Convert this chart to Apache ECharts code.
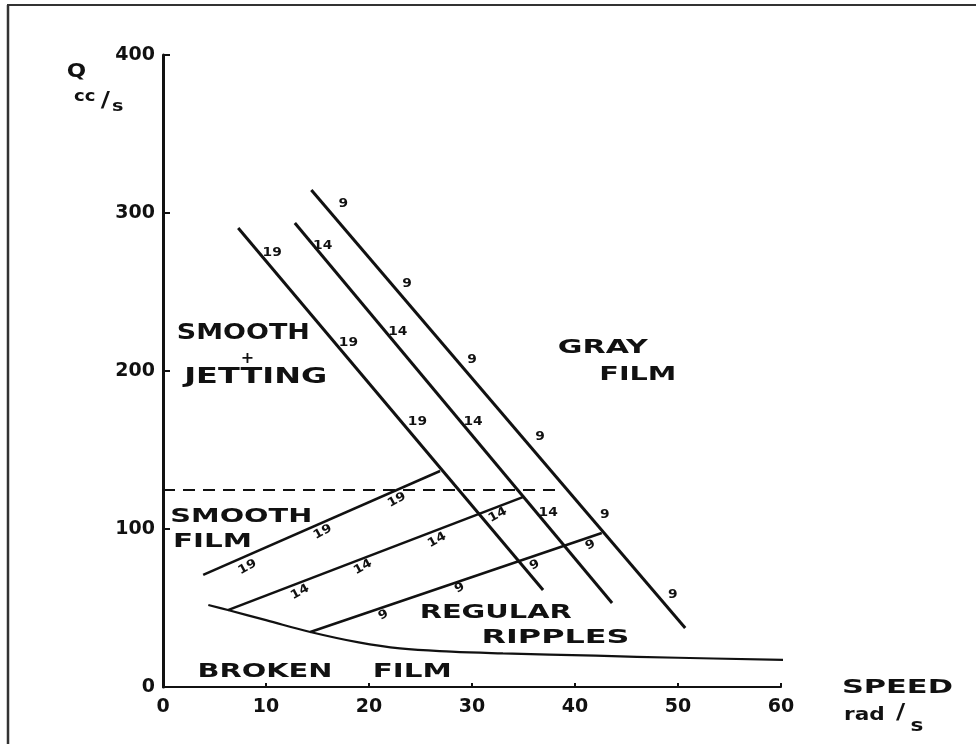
<!DOCTYPE html>
<html><head><meta charset="utf-8">
<script src="https://cdn.jsdelivr.net/npm/echarts@6/dist/echarts.min.js"></script>
<style>html,body{margin:0;padding:0;background:#fff}#c{width:976px;height:744px}</style>
</head><body><div id="c"></div>
<script>
// ---- data ----
const xTicks = [0, 10, 20, 30, 40, 50, 60];
const xTickLabels = ['0', '10', '20', '30', '40', '50', '60'];
const yTicks = [0, 100, 200, 300, 400];
const yTickLabels = ['0', '100', '200', '300', '400'];

// falling boundary lines (labelled 19, 14, 9)
const diag19 = [[7.3, 290.5], [36.9, 61.4]];
const diag14 = [[12.8, 293.7], [43.6, 53.2]];
const diag9 = [[14.4, 314.6], [50.7, 37.3]];
// rising boundary lines
const rise19 = [[3.9, 70.9], [26.9, 136.7]];
const rise14 = [[6.3, 48.7], [35.0, 120.3]];
const rise9 = [[14.3, 34.8], [42.6, 97.5]];
// broken film boundary
const brokenBoundary = [[4.4, 51.9], [6.3, 48.7], [10, 42.3], [14.3, 34.8], [19, 28.2], [23, 24.4], [28, 22.4], [33, 21.3], [42, 19.8], [50, 18.5], [60.5, 17.1]];
// dashed level
const dashedLevel = [[0, 124.7], [38.8, 124.7]];

// line labels [x, y, text]
const diagLabels = [
  [10.6, 274.7, '19'], [18.0, 217.7, '19'], [24.7, 167.7, '19'],
  [15.5, 279.1, '14'], [22.8, 224.7, '14'], [30.1, 167.7, '14'], [37.4, 110.1, '14'],
  [17.5, 305.7, '9'], [23.7, 255.1, '9'], [30.0, 207.0, '9'], [36.6, 158.2, '9'], [42.9, 108.9, '9'], [49.5, 58.2, '9']
];
const riseLabels = [
  [8.2, 75.9, '19'], [15.5, 98.1, '19'], [22.7, 118.4, '19'],
  [13.3, 60.1, '14'], [19.4, 75.9, '14'], [26.6, 93.0, '14'], [32.5, 108.9, '14'],
  [21.4, 45.6, '9'], [28.8, 62.7, '9'], [36.1, 77.2, '9'], [41.5, 89.9, '9']
];
// region labels [x, y, text]
const regionLabels = [
  [7.8, 224, 'SMOOTH'], [9.0, 196.2, 'JETTING'],
  [42.7, 214.6, 'GRAY'], [46.1, 197.5, 'FILM'],
  [7.6, 107.6, 'SMOOTH'], [4.8, 91.8, 'FILM'],
  [32.3, 46.8, 'REGULAR'], [38.1, 31.0, 'RIPPLES'],
  [9.9, 9.5, 'BROKEN'], [24.2, 9.5, 'FILM'],
  [71.3, -0.6, 'SPEED']
];
const plusLabel = [[8.2, 207.6, '+']];
// axis unit texts [x, y, text, size]
const unitLabels = [
  [-8.4, 389, 'Q', 19], [-7.6, 373.5, 'cc', 15], [-5.6, 370.5, '/', 21], [-4.4, 367, 's', 16],
  [68.1, -17.7, 'rad', 18], [71.6, -17.0, '/', 21], [73.2, -25.0, 's', 18]
];

// ---- styles (kept separate from data) ----
const regionWidths = [133, 143, 90, 77, 142, 79, 152, 148, 135, 79, 111];
const FONT = '"DejaVu Sans", sans-serif';
const INK = '#111';
const mctx = document.createElement('canvas').getContext('2d');
function natWidth(text, font) { mctx.font = font; return mctx.measureText(text).width; }

function textSeries(data, cfg) {
  return {
    type: 'custom', coordinateSystem: 'cartesian2d', clip: false, silent: true, z: 10,
    data: data.map(d => [d[0], d[1]]),
    renderItem: function (params, api) {
      const d = data[params.dataIndex];
      const p = api.coord([api.value(0), api.value(1)]);
      const size = cfg.size ? cfg.size(d, params.dataIndex) : 13;
      const font = (cfg.weight || 'bold') + ' ' + size + 'px ' + FONT;
      let sx = cfg.scaleX || 1;
      if (cfg.widths) sx = cfg.widths[params.dataIndex] / natWidth(d[2], font);
      return {
        type: 'text', x: p[0], y: p[1], rotation: cfg.rotation || 0, scaleX: sx,
        style: { text: d[2], font: font, fill: INK, align: 'center', verticalAlign: 'middle' }
      };
    }
  };
}

function lineSeries(data, width, dashed) {
  return {
    type: 'line', data: data, symbol: 'none', silent: true, clip: false, smooth: false,
    lineStyle: { color: INK, width: width, type: dashed ? [12, 8] : 'solid' }
  };
}

const chart = echarts.init(document.getElementById('c'));
chart.setOption({
  animation: false,
  backgroundColor: '#fff',
  grid: { left: 163, right: 195, top: 55, bottom: 57 },
  xAxis: {
    type: 'value', min: 0, max: 60, interval: 10,
    axisLine: { show: true, lineStyle: { color: INK, width: 2 } },
    axisTick: { show: true, inside: true, length: 4, lineStyle: { color: INK, width: 2 } },
    splitLine: { show: false },
    axisLabel: {
      color: INK, fontSize: 19, fontWeight: 'bold', fontFamily: FONT, margin: 11,
      formatter: v => { const i = xTicks.indexOf(v); return i >= 0 ? xTickLabels[i] : ''; }
    }
  },
  yAxis: {
    type: 'value', min: 0, max: 400, interval: 100,
    axisLine: { show: true, lineStyle: { color: INK, width: 3 } },
    axisTick: { show: true, inside: true, length: 7, lineStyle: { color: INK, width: 2 } },
    splitLine: { show: false },
    axisLabel: {
      color: INK, fontSize: 19, fontWeight: 'bold', fontFamily: FONT, margin: 8,
      formatter: v => { const i = yTicks.indexOf(v); return i >= 0 ? yTickLabels[i] : ''; }
    }
  },
  graphic: [
    { type: 'line', shape: { x1: 8, y1: 5, x2: 8, y2: 744 }, style: { stroke: '#333', lineWidth: 2.5 } },
    { type: 'line', shape: { x1: 7, y1: 5, x2: 976, y2: 5 }, style: { stroke: '#333', lineWidth: 2 } }
  ],
  series: [
    lineSeries(diag19, 3), lineSeries(diag14, 3), lineSeries(diag9, 3),
    lineSeries(rise19, 2.5), lineSeries(rise14, 2.5), lineSeries(rise9, 2.5),
    Object.assign(lineSeries(brokenBoundary, 2.2), { smooth: 0.4 }),
    lineSeries(dashedLevel, 2, true),
    textSeries(diagLabels, { size: () => 12, scaleX: 1.15 }),
    textSeries(riseLabels, { size: () => 12, scaleX: 1.15, rotation: 0.5 }),
    textSeries(regionLabels, { size: (d, i) => (i < 2 ? 22 : 20), widths: regionWidths }),
    textSeries(plusLabel, { size: () => 16 }),
    textSeries(unitLabels, { size: d => d[3], scaleX: 1.2 })
  ]
});
</script>
</body></html>
